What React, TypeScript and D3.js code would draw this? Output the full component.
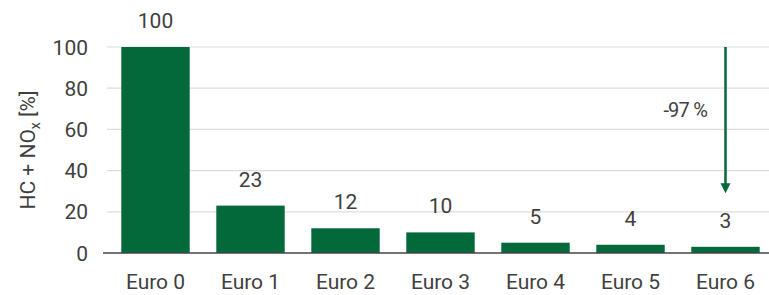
import React from 'react';
import * as d3 from 'd3';

const categories = ['Euro 0', 'Euro 1', 'Euro 2', 'Euro 3', 'Euro 4', 'Euro 5', 'Euro 6'];
const values = [100, 23, 12, 10, 5, 4, 3];
const yTicks = [0, 20, 40, 60, 80, 100];
const arrowFrom = 100;
const arrowTo = 29;
const arrowLabel = '-97 %';

const W = 769;
const H = 295;
const green = '#03693b';
const textColor = '#3f3f3f';
const font = 'Roboto, "Noto Sans", sans-serif';

export default function App() {
  const x = d3.scaleBand<string>().domain(categories).range([108, 773]).paddingInner(0.28).paddingOuter(0.14);
  const y = d3.scaleLinear().domain([0, 100]).range([253, 47]);

  const ax = (x(categories[6]) ?? 0) + x.bandwidth() / 2;
  const arrowTip = y(arrowTo);

  return (
    <svg width={W} height={H} style={{ position: 'absolute', left: 0, top: 0, background: '#fff' }} fontFamily={font}>
      {/* grid */}
      {yTicks.filter(t => t > 0).map(t => (
        <line key={t} x1={107} x2={W} y1={y(t)} y2={y(t)} stroke="#dcdcdc" strokeWidth={1.2} />
      ))}
      {/* bars */}
      {values.map((v, i) => (
        <rect key={categories[i]} x={x(categories[i])} y={y(v)} width={x.bandwidth()} height={y(0) - y(v)} fill={green} />
      ))}
      <line x1={103} x2={W} y1={y(0)} y2={y(0)} stroke="#444" strokeWidth={1.5} />
      {/* value labels */}
      {values.map((v, i) => (
        <text key={'v' + i} x={(x(categories[i]) ?? 0) + x.bandwidth() / 2} y={y(v) - 19} textAnchor="middle"
          fontSize={21} fill={textColor}>{v}</text>
      ))}
      {/* y tick labels */}
      {yTicks.map(t => (
        <text key={'t' + t} x={88} y={y(t)} dy="0.36em" textAnchor="end" fontSize={21} fill={textColor}>{t}</text>
      ))}
      {/* x labels */}
      {categories.map(c => (
        <text key={c} x={(x(c) ?? 0) + x.bandwidth() / 2} y={289} textAnchor="middle" fontSize={21} fill={textColor}>{c}</text>
      ))}
      {/* y axis title */}
      <text transform={`translate(35,${(y(0) + y(100)) / 2}) rotate(-90)`} textAnchor="middle" fontSize={21} fill={textColor}>
        HC + NO<tspan fontSize={14} dy={5}>x</tspan><tspan dy={-5}> [%]</tspan>
      </text>
      {/* annotation arrow */}
      <line x1={ax} x2={ax} y1={y(arrowFrom)} y2={arrowTip - 8} stroke={green} strokeWidth={2.5} />
      <path d={`M${ax - 5},${arrowTip - 10} L${ax + 5},${arrowTip - 10} L${ax},${arrowTip} Z`} fill={green} />
      <text x={707} y={117} textAnchor="end" fontSize={20} fill={textColor} letterSpacing={-0.8}>{arrowLabel}</text>
    </svg>
  );
}
